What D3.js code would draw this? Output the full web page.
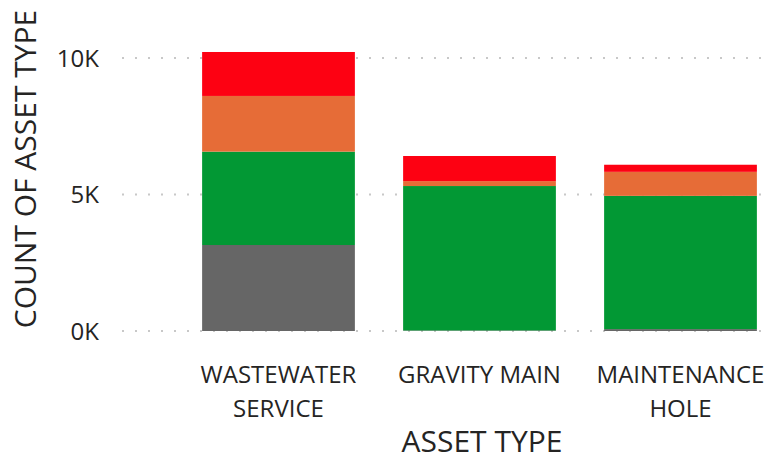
<!DOCTYPE html>
<html>
<head>
<meta charset="utf-8">
<script src="https://cdn.jsdelivr.net/npm/d3@7"></script>
<style>
  body { margin: 0; background: #fff; }
  text { font-family: "Open Sans", "Noto Sans", sans-serif; fill: #252423; }
</style>
</head>
<body>
<svg id="chart"></svg>
<script>
var width = 775, height = 461;

// data (counts)
var categories = ["WASTEWATER SERVICE", "GRAVITY MAIN", "MAINTENANCE HOLE"]
var labelLines = [["WASTEWATER", "SERVICE"], ["GRAVITY MAIN"], ["MAINTENANCE", "HOLE"]]
var series = ["grey", "green", "orange", "red"]
var greyVals   = [3150, 20, 70]
var greenVals  = [3420, 5290, 4880]
var orangeVals = [2040, 180, 880]
var redVals    = [1610, 920, 260]
var colors = ["#666666", "#029834", "#E66C37", "#FD0112"]
var yTicks = [0, 5000, 10000]

var svg = d3.select("#chart")
    .attr("width", width)
    .attr("height", height);

var rows = categories.map(function (c, i) {
  return {cat: c, grey: greyVals[i], green: greenVals[i], orange: orangeVals[i], red: redVals[i]};
});
var stacked = d3.stack().keys(series)(rows);

var x = d3.scaleBand()
    .domain(categories)
    .range([178, 781])
    .paddingInner(0.24)
    .paddingOuter(0.12);

var y = d3.scaleLinear()
    .domain([0, 10000])
    .range([331, 58]);

// dotted gridlines
svg.append("g")
  .selectAll("line")
  .data(yTicks)
  .enter().append("line")
  .attr("x1", 122)
  .attr("x2", 766)
  .attr("y1", function (d) { return y(d); })
  .attr("y2", function (d) { return y(d); })
  .attr("stroke", "#c8c8c8")
  .attr("stroke-width", 2)
  .attr("stroke-dasharray", "2,11");

// y axis labels
var yAxis = d3.axisLeft(y)
    .tickValues(yTicks)
    .tickSize(0)
    .tickPadding(0)
    .tickFormat(function (d) { return (d / 1000) + "K"; });
var yg = svg.append("g")
  .attr("transform", "translate(99,0)")
  .call(yAxis);
yg.select(".domain").remove();
yg.selectAll("text")
  .attr("font-size", "24px")
  .attr("dy", "0.35em")
  .style("font-family", "'Open Sans', sans-serif")
  .attr("fill", "#252423");

// bars
svg.append("g")
  .selectAll("g")
  .data(stacked)
  .enter().append("g")
  .attr("fill", function (d, i) { return colors[i]; })
  .selectAll("rect")
  .data(function (d) { return d; })
  .enter().append("rect")
  .attr("x", function (d) { return x(d.data.cat); })
  .attr("width", x.bandwidth())
  .attr("y", function (d) { return y(d[1]); })
  .attr("height", function (d) { return y(d[0]) - y(d[1]); });

// x labels
var xl = svg.append("g")
  .selectAll("text")
  .data(categories)
  .enter().append("text")
  .attr("text-anchor", "middle")
  .attr("font-size", "24px")
  .attr("x", function (d) { return x(d) + x.bandwidth() / 2; });
xl.selectAll("tspan")
  .data(function (d, i) { return labelLines[i]; })
  .enter().append("tspan")
  .attr("x", function () { var p = d3.select(this.parentNode).datum(); return x(p) + x.bandwidth() / 2; })
  .attr("y", function (d, i) { return 383 + i * 34; })
  .text(function (d) { return d; });

// axis titles
svg.append("text")
  .attr("x", 482)
  .attr("y", 452)
  .attr("text-anchor", "middle")
  .attr("font-size", "30px")
  .text("ASSET TYPE");

svg.append("text")
  .attr("transform", "translate(36,169) rotate(-90)")
  .attr("text-anchor", "middle")
  .attr("font-size", "30px")
  .text("COUNT OF ASSET TYPE");
</script>
</body>
</html>
